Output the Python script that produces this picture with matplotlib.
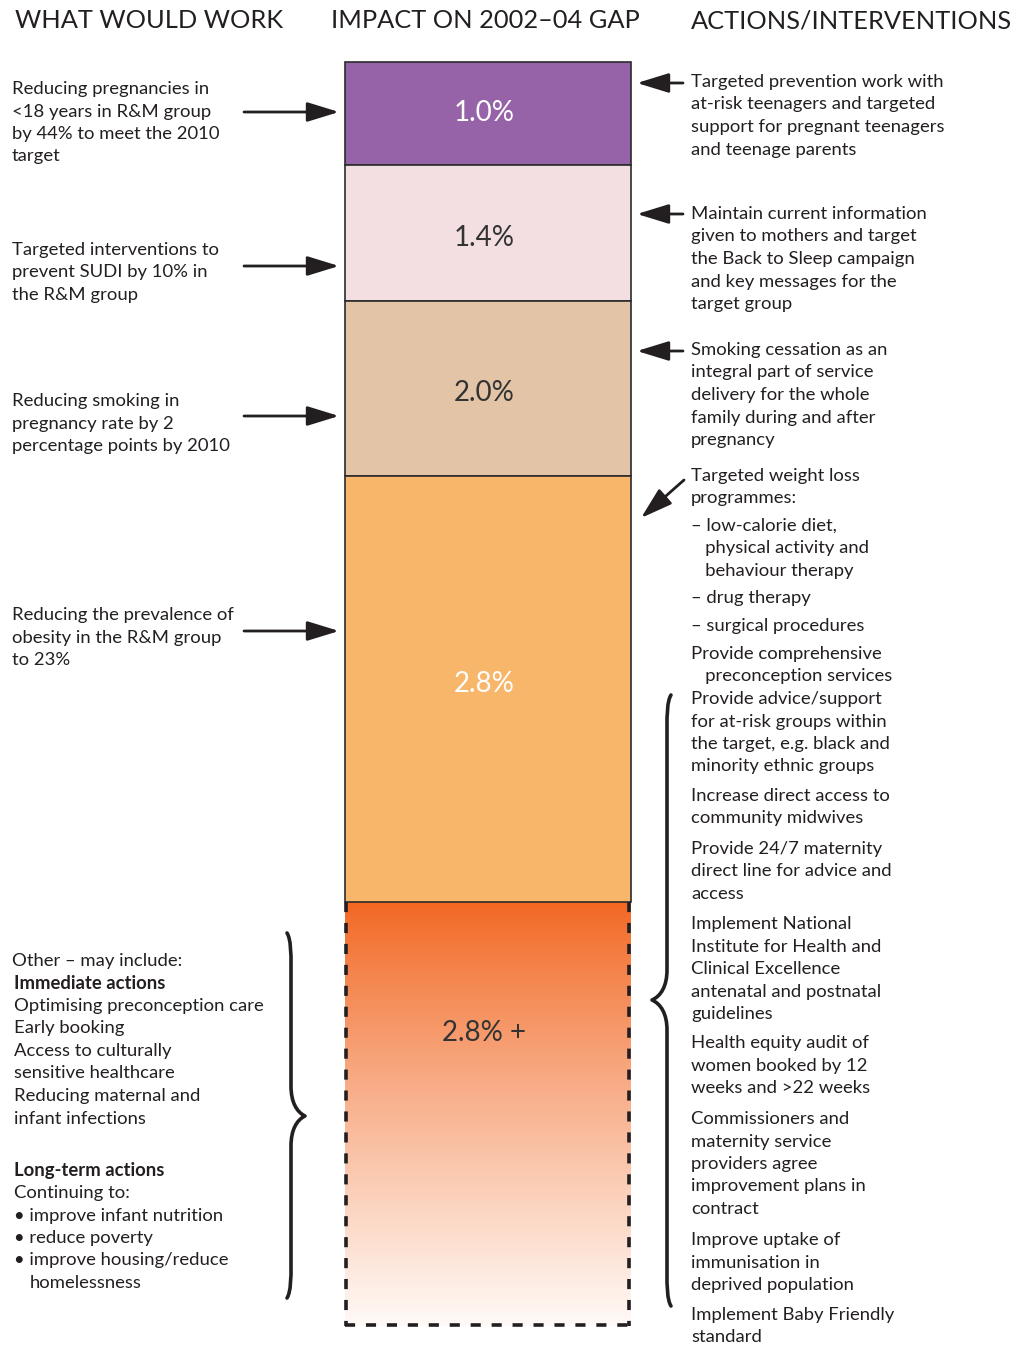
import numpy as np
import matplotlib
matplotlib.use('Agg')
import matplotlib.pyplot as plt
from matplotlib.path import Path
from matplotlib.patches import PathPatch, FancyArrowPatch

plt.rcParams['font.family'] = ['Lato', 'DejaVu Sans']

# ---- data ----
headers = ['WHAT WOULD WORK', 'IMPACT ON 2002–04 GAP', 'ACTIONS/INTERVENTIONS']
impact_labels = ['1.0%', '1.4%', '2.0%', '2.8%', '2.8% +']
seg_colors = ['#9662A8', '#F3DFE1', '#E3C4A7', '#F8B66B']
label_colors = ['white', '#333333', '#333333', 'white', '#333333']

what_works = [
    ['Reducing pregnancies in', '<18 years in R&M group', 'by 44% to meet the 2010', 'target'],
    ['Targeted interventions to', 'prevent SUDI by 10% in', 'the R&M group'],
    ['Reducing smoking in', 'pregnancy rate by 2', 'percentage points by 2010'],
    ['Reducing the prevalence of', 'obesity in the R&M group', 'to 23%'],
]
other_lines = [
    ('Other – may include:', 'normal', 12),
    ('Immediate actions', 'bold', 14),
    ('Optimising preconception care', 'normal', 14),
    ('Early booking', 'normal', 14),
    ('Access to culturally', 'normal', 14),
    ('sensitive healthcare', 'normal', 14),
    ('Reducing maternal and', 'normal', 14),
    ('infant infections', 'normal', 14),
    (None, None, None),
    ('Long-term actions', 'bold', 14),
    ('Continuing to:', 'normal', 14),
    ('• improve infant nutrition', 'normal', 14),
    ('• reduce poverty', 'normal', 14),
    ('• improve housing/reduce', 'normal', 14),
    ('homelessness', 'normal', 30),
]

actions = [
    (82, ['Targeted prevention work with', 'at-risk teenagers and targeted',
          'support for pregnant teenagers', 'and teenage parents']),
    (214, ['Maintain current information', 'given to mothers and target',
           'the Back to Sleep campaign', 'and key messages for the', 'target group']),
    (350, ['Smoking cessation as an', 'integral part of service',
           'delivery for the whole', 'family during and after', 'pregnancy']),
    (476, ['Targeted weight loss', 'programmes:']),
    (526, ['– low-calorie diet,', '   physical activity and', '   behaviour therapy']),
    (598, ['– drug therapy']),
    (626, ['– surgical procedures']),
    (654, ['Provide comprehensive', '   preconception services']),
    (699, ['Provide advice/support', 'for at-risk groups within',
           'the target, e.g. black and', 'minority ethnic groups']),
    (796, ['Increase direct access to', 'community midwives']),
    (849, ['Provide 24/7 maternity', 'direct line for advice and', 'access']),
    (924, ['Implement National', 'Institute for Health and', 'Clinical Excellence',
           'antenatal and postnatal', 'guidelines']),
    (1043, ['Health equity audit of', 'women booked by 12', 'weeks and >22 weeks']),
    (1119, ['Commissioners and', 'maternity service', 'providers agree',
            'improvement plans in', 'contract']),
    (1240, ['Improve uptake of', 'immunisation in', 'deprived population']),
    (1315, ['Implement Baby Friendly', 'standard']),
]

# ---- layout (pixel coordinates, y downward) ----
W, H = 1018, 1345
bar_left, bar_right = 345, 631
bar_edges = [62, 165, 301, 476, 902, 1326]
seg_heights = np.diff(bar_edges)
left_text_y = [89, 250, 401, 615]
left_arrow_y = [112, 266, 416, 631]
right_arrow_y = [83, 214, 351]
step = 22.5
fs = 13.3
txt = '#231f20'

fig = plt.figure(figsize=(W / 100, H / 100), dpi=100)
ax = fig.add_axes([0, 0, 1, 1])
ax.axis('off')

bx = (bar_left + bar_right) / 2
bw = bar_right - bar_left
ax.bar([bx] * 4, seg_heights[:4], bottom=bar_edges[:4], width=bw,
       color=seg_colors, edgecolor='#2b2b2b', linewidth=1.2, zorder=2)

# gradient box for "other"
c0 = np.array([242, 103, 34]) / 255
c1 = np.array([255, 250, 247]) / 255
t = np.linspace(0, 1, 256) ** 0.9
grad = (c0[None, :] * (1 - t[:, None]) + c1[None, :] * t[:, None])[:, None, :]
ax.imshow(grad, extent=[bar_left, bar_right, bar_edges[5], bar_edges[4]],
          aspect='auto', zorder=1, interpolation='bilinear')
dash = (0, (2.8, 3.0))
ax.plot([bar_left + 1.5, bar_left + 1.5], [bar_edges[4], bar_edges[5]], color='#231f20',
        lw=2.6, ls=dash, zorder=3)
ax.plot([bar_right - 1.5, bar_right - 1.5], [bar_edges[4], bar_edges[5]], color='#231f20',
        lw=2.6, ls=dash, zorder=3)
ax.plot([bar_left, bar_right], [bar_edges[5] - 1, bar_edges[5] - 1], color='#231f20',
        lw=2.6, ls=dash, zorder=3)

label_y = [113, 238, 393, 684, 1033]
for lab, y, c in zip(impact_labels, label_y, label_colors):
    ax.text(484, y, lab, ha='center', va='center', fontsize=20, color=c, zorder=4)

# headers
for xh, h in zip([149, 485, 851], headers):
    ax.text(xh, 21, h, ha='center', va='center', fontsize=18.3, color=txt)

# left texts
for lines, y0 in zip(what_works, left_text_y):
    for i, ln in enumerate(lines):
        ax.text(12, y0 + i * step, ln, ha='left', va='center', fontsize=fs, color=txt)
y = 961
for ln, wt, xx in other_lines:
    if ln is None:
        y += 29.5
        continue
    ax.text(xx, y, ln, ha='left', va='center', fontsize=fs, color=txt, fontweight=wt)
    y += step

# right texts
for y0, lines in actions:
    for i, ln in enumerate(lines):
        ax.text(691, y0 + i * step, ln, ha='left', va='center', fontsize=fs, color=txt)


def arrow(p0, p1):
    a = FancyArrowPatch(p0, p1, arrowstyle='-|>,head_length=1.3,head_width=0.4',
                        mutation_scale=15, color='#231f20', lw=2, shrinkA=0, shrinkB=0)
    ax.add_patch(a)


for y in left_arrow_y:
    arrow((244, y), (339, y))
for y in right_arrow_y:
    arrow((683, y), (637, y))
arrow((684, 480), (641, 518))


def brace(x0, top, bot, mid, d):
    # d > 0 points right, d < 0 points left
    s = np.sign(d)
    verts = [(x0 - 4 * s, top), (x0, top + 6), (x0, top + 22), (x0, top + 30),
             (x0, mid - 30), (x0, mid - 14), (x0 + d * 0.4, mid - 4), (x0 + d, mid),
             (x0 + d * 0.4, mid + 4), (x0, mid + 14), (x0, mid + 30),
             (x0, bot - 30), (x0, bot - 22), (x0, bot - 6), (x0 - 4 * s, bot)]
    codes = [Path.MOVETO, Path.CURVE4, Path.CURVE4, Path.CURVE4,
             Path.LINETO, Path.CURVE4, Path.CURVE4, Path.CURVE4,
             Path.CURVE4, Path.CURVE4, Path.CURVE4,
             Path.LINETO, Path.CURVE4, Path.CURVE4, Path.CURVE4]
    ax.add_patch(PathPatch(Path(verts, codes), fill=False, lw=2.6, color='#231f20',
                           capstyle='round', joinstyle='round'))


brace(291, 933, 1298, 1116, 14)
brace(667, 695, 1306, 1000, -15)

ax.set_xlim(0, W)
ax.set_ylim(H, 0)
fig.savefig('out.png', dpi=100)
